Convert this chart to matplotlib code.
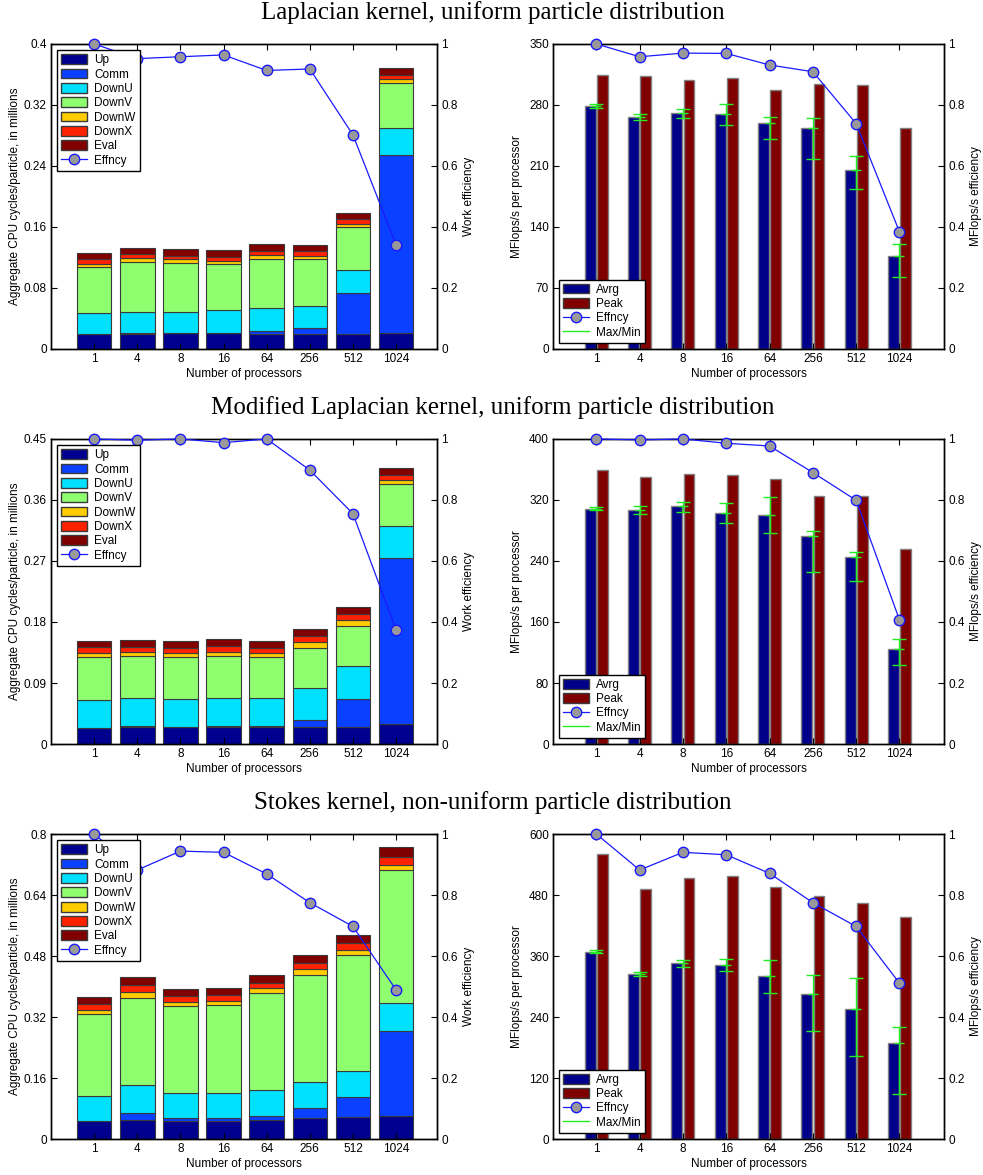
import matplotlib
matplotlib.use('Agg')
import numpy as np
import matplotlib.pyplot as plt
from matplotlib.ticker import FormatStrFormatter
from matplotlib.patches import Patch
from matplotlib.lines import Line2D

plt.rcParams['font.family'] = ['Liberation Sans', 'DejaVu Sans']
plt.rcParams['font.size'] = 8.5
plt.rcParams['axes.linewidth'] = 1.0

procs = ['1', '4', '8', '16', '64', '256', '512', '1024']
parts = ['Up', 'Comm', 'DownU', 'DownV', 'DownW', 'DownX', 'Eval']
part_colors = ['#00008f', '#0a40ff', '#00e0ff', '#8fff70', '#ffcc00', '#ff2200', '#800000']

# Laplacian kernel, uniform particle distribution (cycles/particle, millions)
lap_up    = [0.0192, 0.0201, 0.0205, 0.0205, 0.0197, 0.0192, 0.0192, 0.0210]
lap_comm  = [0.0000, 0.0005, 0.0000, 0.0009, 0.0035, 0.0079, 0.0547, 0.2334]
lap_downu = [0.0284, 0.0284, 0.0285, 0.0293, 0.0306, 0.0293, 0.0297, 0.0358]
lap_downv = [0.0595, 0.0647, 0.0634, 0.0608, 0.0638, 0.0616, 0.0560, 0.0581]
lap_downw = [0.0044, 0.0052, 0.0052, 0.0043, 0.0052, 0.0044, 0.0047, 0.0053]
lap_downx = [0.0061, 0.0053, 0.0048, 0.0053, 0.0057, 0.0056, 0.0057, 0.0061]
lap_eval  = [0.0079, 0.0078, 0.0083, 0.0087, 0.0088, 0.0084, 0.0083, 0.0092]
lap_work_eff = [1.0, 0.952, 0.958, 0.964, 0.913, 0.918, 0.702, 0.341]
lap_avrg = [278.9, 266.2, 270.4, 269.3, 259.3, 253.2, 205.4, 106.7]
lap_peak = [314.4, 312.9, 308.7, 310.6, 297.6, 304.1, 302.9, 253.2]
lap_max  = [281.0, 270.0, 275.0, 280.8, 266.2, 265.5, 221.9, 120.5]
lap_min  = [277.0, 262.4, 264.7, 257.4, 241.0, 217.6, 184.0, 83.0]
lap_flop_eff = [1.0, 0.958, 0.970, 0.969, 0.931, 0.909, 0.739, 0.384]

# Modified Laplacian kernel, uniform particle distribution
mod_up    = [0.0241, 0.0256, 0.0251, 0.0256, 0.0256, 0.0256, 0.0251, 0.0290]
mod_comm  = [0.0000, 0.0005, 0.0005, 0.0005, 0.0005, 0.0098, 0.0413, 0.2449]
mod_downu = [0.0403, 0.0413, 0.0403, 0.0418, 0.0423, 0.0477, 0.0482, 0.0472]
mod_downv = [0.0640, 0.0624, 0.0620, 0.0619, 0.0595, 0.0590, 0.0595, 0.0620]
mod_downw = [0.0059, 0.0064, 0.0059, 0.0064, 0.0069, 0.0089, 0.0084, 0.0069]
mod_downx = [0.0083, 0.0074, 0.0073, 0.0079, 0.0073, 0.0079, 0.0088, 0.0069]
mod_eval  = [0.0099, 0.0098, 0.0109, 0.0103, 0.0104, 0.0113, 0.0103, 0.0108]
mod_work_eff = [1.0, 0.996, 1.0, 0.988, 1.0, 0.898, 0.755, 0.374]
mod_avrg = [307.8, 306.5, 311.7, 303.0, 300.3, 273.2, 244.8, 125.1]
mod_peak = [359.3, 350.2, 354.5, 352.3, 347.5, 325.7, 325.7, 255.7]
mod_max  = [310.8, 311.7, 317.8, 315.6, 323.9, 278.9, 251.4, 137.3]
mod_min  = [306.5, 301.2, 304.7, 289.4, 276.3, 225.1, 213.3, 103.2]
mod_flop_eff = [1.0, 0.997, 1.0, 0.986, 0.977, 0.890, 0.799, 0.407]

# Stokes kernel, non-uniform particle distribution
stk_up    = [0.0463, 0.0507, 0.0480, 0.0480, 0.0507, 0.0542, 0.0568, 0.0611]
stk_comm  = [0.0000, 0.0174, 0.0070, 0.0062, 0.0104, 0.0262, 0.0524, 0.2228]
stk_downu = [0.0672, 0.0725, 0.0655, 0.0672, 0.0682, 0.0698, 0.0698, 0.0716]
stk_downv = [0.2149, 0.2306, 0.2289, 0.2306, 0.2532, 0.2804, 0.3031, 0.3493]
stk_downw = [0.0096, 0.0140, 0.0113, 0.0113, 0.0149, 0.0148, 0.0149, 0.0131]
stk_downx = [0.0157, 0.0201, 0.0149, 0.0140, 0.0131, 0.0157, 0.0166, 0.0227]
stk_eval  = [0.0184, 0.0192, 0.0183, 0.0201, 0.0192, 0.0210, 0.0227, 0.0245]
stk_work_eff = [1.0, 0.882, 0.944, 0.940, 0.869, 0.775, 0.697, 0.489]
stk_avrg = [367.5, 324.2, 345.8, 342.6, 321.0, 285.6, 256.1, 188.0]
stk_peak = [560.7, 492.6, 512.9, 517.5, 496.5, 478.2, 463.8, 436.9]
stk_max  = [372.7, 328.2, 352.4, 353.7, 352.4, 323.6, 316.4, 220.1]
stk_min  = [366.8, 320.3, 338.6, 330.8, 288.2, 213.5, 162.4, 89.1]
stk_flop_eff = [1.0, 0.882, 0.940, 0.932, 0.871, 0.775, 0.697, 0.511]

titles = ['Laplacian kernel, uniform particle distribution',
          'Modified Laplacian kernel, uniform particle distribution',
          'Stokes kernel, non-uniform particle distribution']

eff_kw = dict(color='#1a1aff', lw=0.9, marker='o', ms=7.5, mfc='#999999',
              mec='#1a1aff', mew=1.0, clip_on=False, zorder=5)


def style_axes(ax, ax2, xmax):
    ax.set_xlim(0, xmax)
    ax.set_xticks(np.arange(1, 9))
    ax.set_xticklabels(procs)
    ax.tick_params(direction='in', length=4, top=True, right=False, pad=3)
    ax2.tick_params(direction='in', length=4, pad=3)
    ax2.set_ylim(0, 1)
    ax2.set_yticks(np.linspace(0, 1, 6))
    ax2.yaxis.set_major_formatter(FormatStrFormatter('%g'))
    ax.yaxis.set_major_formatter(FormatStrFormatter('%g'))
    ax.set_xlabel('Number of processors', labelpad=2)


def draw_cycles(ax, segs, eff, ymax):
    x = np.arange(1, 9)
    bottom = np.zeros(8)
    handles = []
    for seg, name, c in zip(segs, parts, part_colors):
        ax.bar(x, seg, 0.8, bottom=bottom, color=c, edgecolor='#3a3a3a', lw=0.8)
        bottom += np.array(seg)
        handles.append(Patch(facecolor=c, edgecolor='#3a3a3a', label=name))
    ax.set_ylim(0, ymax)
    ax.set_yticks(np.linspace(0, ymax, 6))
    ax.set_ylabel('Aggregate CPU cycles/particle, in millions', labelpad=2)
    ax2 = ax.twinx()
    ax2.plot(x, eff, **eff_kw)
    ax2.set_ylabel('Work efficiency', labelpad=4)
    style_axes(ax, ax2, 8.95)
    handles.append(Line2D([], [], label='Effncy', **eff_kw))
    ax2.legend(handles=handles, loc='upper left', bbox_to_anchor=(0.015, 0.98),
               borderaxespad=0, fancybox=False, edgecolor='black', framealpha=1,
               handlelength=2.2, handleheight=0.9, labelspacing=0.2,
               borderpad=0.35, handletextpad=0.6).get_frame().set_linewidth(1.0)


def draw_flops(ax, avrg, peak, fmax, fmin, eff, ymax):
    x = np.arange(1, 9)
    avrg = np.array(avrg)
    ax.bar(x - 0.14, avrg, 0.25, color='#00008b', edgecolor='#808080', lw=1)
    ax.bar(x + 0.14, peak, 0.25, color='#800000', edgecolor='#808080', lw=1)
    ax.errorbar(x, avrg, yerr=[avrg - np.array(fmin), np.array(fmax) - avrg],
                fmt='_', color='#22ee22', ms=7, lw=1, capsize=5, capthick=1, zorder=4)
    ax.set_ylim(0, ymax)
    ax.set_yticks(np.linspace(0, ymax, 6))
    ax.set_ylabel('MFlops/s per processor', labelpad=4)
    ax2 = ax.twinx()
    ax2.plot(x, eff, **eff_kw)
    ax2.set_ylabel('MFlops/s efficiency', labelpad=4)
    style_axes(ax, ax2, 9.03)
    handles = [Patch(facecolor='#00008b', edgecolor='#3a3a3a', label='Avrg'),
               Patch(facecolor='#800000', edgecolor='#3a3a3a', label='Peak'),
               Line2D([], [], label='Effncy', **eff_kw),
               Line2D([], [], color='#22ee22', lw=1, label='Max/Min')]
    ax2.legend(handles=handles, loc='lower left', bbox_to_anchor=(0.015, 0.02),
               borderaxespad=0, fancybox=False, edgecolor='black', framealpha=1,
               handlelength=2.2, handleheight=0.9, labelspacing=0.2,
               borderpad=0.35, handletextpad=0.6).get_frame().set_linewidth(1.0)


fig = plt.figure(figsize=(9.83, 11.75), dpi=100)

rows = [
    ([lap_up, lap_comm, lap_downu, lap_downv, lap_downw, lap_downx, lap_eval], lap_work_eff, 0.4,
     lap_avrg, lap_peak, lap_max, lap_min, lap_flop_eff, 350),
    ([mod_up, mod_comm, mod_downu, mod_downv, mod_downw, mod_downx, mod_eval], mod_work_eff, 0.45,
     mod_avrg, mod_peak, mod_max, mod_min, mod_flop_eff, 400),
    ([stk_up, stk_comm, stk_downu, stk_downv, stk_downw, stk_downx, stk_eval], stk_work_eff, 0.8,
     stk_avrg, stk_peak, stk_max, stk_min, stk_flop_eff, 600),
]
row_bottoms = [0.7030, 0.3668, 0.0306]
title_y = [1 - 13 / 1175, 1 - 408 / 1175, 1 - 803 / 1175]

for i, (segs, weff, cmax, avrg, peak, fmax, fmin, feff, fymax) in enumerate(rows):
    axl = fig.add_axes([0.0519, row_bottoms[i], 0.3927, 0.2596])
    draw_cycles(axl, segs, weff, cmax)
    axr = fig.add_axes([0.5626, row_bottoms[i], 0.3978, 0.2596])
    draw_flops(axr, avrg, peak, fmax, fmin, feff, fymax)
    fig.text(0.501, title_y[i], titles[i], ha='center', va='center',
             family=['Liberation Serif', 'DejaVu Serif'], fontsize=18)

fig.savefig('out.png', dpi=100)
